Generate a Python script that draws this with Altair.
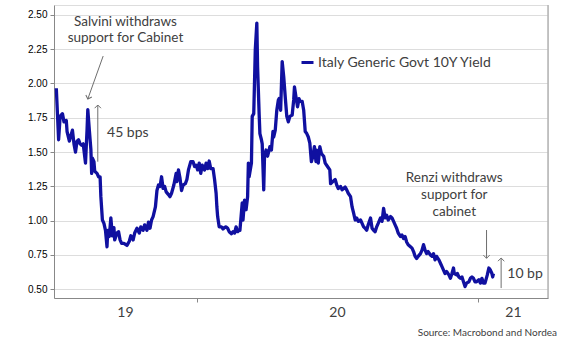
import altair as alt
import pandas as pd

# ---------------- data ----------------
dates = [
    "2019-07-02", "2019-07-05", "2019-07-07", "2019-07-10", "2019-07-12", "2019-07-15", "2019-07-16",
    "2019-07-19", "2019-07-21", "2019-07-23", "2019-07-25", "2019-07-27", "2019-07-29", "2019-07-31",
    "2019-08-02", "2019-08-04", "2019-08-06", "2019-08-09", "2019-08-11", "2019-08-12", "2019-08-14",
    "2019-08-16", "2019-08-17", "2019-08-18", "2019-08-20", "2019-08-21", "2019-08-24", "2019-08-26",
    "2019-08-28", "2019-08-29", "2019-08-31", "2019-09-02", "2019-09-04", "2019-09-06", "2019-09-07",
    "2019-09-09", "2019-09-11", "2019-09-13", "2019-09-15", "2019-09-16", "2019-09-19", "2019-09-21",
    "2019-09-23", "2019-09-25", "2019-09-28", "2019-10-02", "2019-10-05", "2019-10-07", "2019-10-10",
    "2019-10-12", "2019-10-15", "2019-10-18", "2019-10-20", "2019-10-23", "2019-10-25", "2019-10-28",
    "2019-10-30", "2019-11-01", "2019-11-03", "2019-11-05", "2019-11-08", "2019-11-10", "2019-11-12",
    "2019-11-14", "2019-11-16", "2019-11-18", "2019-11-20", "2019-11-22", "2019-11-25", "2019-11-27",
    "2019-11-29", "2019-12-02", "2019-12-05", "2019-12-06", "2019-12-08", "2019-12-10", "2019-12-12",
    "2019-12-14", "2019-12-17", "2019-12-19", "2019-12-21", "2019-12-24", "2019-12-27", "2019-12-29",
    "2019-12-31", "2020-01-02", "2020-01-04", "2020-01-06", "2020-01-08", "2020-01-11", "2020-01-13",
    "2020-01-15", "2020-01-17", "2020-01-19", "2020-01-22", "2020-01-24", "2020-01-26", "2020-01-27",
    "2020-01-28", "2020-01-30", "2020-02-02", "2020-02-04", "2020-02-06", "2020-02-08", "2020-02-10",
    "2020-02-12", "2020-02-15", "2020-02-17", "2020-02-19", "2020-02-21", "2020-02-23", "2020-02-25",
    "2020-02-26", "2020-02-29", "2020-03-01", "2020-03-03", "2020-03-05", "2020-03-07", "2020-03-08",
    "2020-03-09", "2020-03-12", "2020-03-13", "2020-03-15", "2020-03-17", "2020-03-19", "2020-03-20",
    "2020-03-22", "2020-03-23", "2020-03-25", "2020-03-26", "2020-03-28", "2020-03-29", "2020-03-31",
    "2020-04-02", "2020-04-04", "2020-04-05", "2020-04-07", "2020-04-09", "2020-04-10", "2020-04-12",
    "2020-04-14", "2020-04-16", "2020-04-17", "2020-04-19", "2020-04-21", "2020-04-23", "2020-04-25",
    "2020-04-27", "2020-04-29", "2020-05-01", "2020-05-04", "2020-05-06", "2020-05-07", "2020-05-09",
    "2020-05-11", "2020-05-13", "2020-05-14", "2020-05-17", "2020-05-19", "2020-05-21", "2020-05-23",
    "2020-05-25", "2020-05-27", "2020-05-29", "2020-05-31", "2020-06-02", "2020-06-04", "2020-06-05",
    "2020-06-07", "2020-06-09", "2020-06-11", "2020-06-14", "2020-06-16", "2020-06-19", "2020-06-22",
    "2020-06-23", "2020-06-26", "2020-06-29", "2020-07-01", "2020-07-03", "2020-07-06", "2020-07-08",
    "2020-07-10", "2020-07-12", "2020-07-14", "2020-07-16", "2020-07-19", "2020-07-21", "2020-07-23",
    "2020-07-25", "2020-07-27", "2020-07-29", "2020-08-01", "2020-08-03", "2020-08-05", "2020-08-07",
    "2020-08-09", "2020-08-11", "2020-08-14", "2020-08-16", "2020-08-18", "2020-08-20", "2020-08-22",
    "2020-08-24", "2020-08-27", "2020-08-29", "2020-08-31", "2020-09-02", "2020-09-04", "2020-09-06",
    "2020-09-09", "2020-09-11", "2020-09-13", "2020-09-15", "2020-09-17", "2020-09-19", "2020-09-22",
    "2020-09-24", "2020-09-26", "2020-09-28", "2020-09-30", "2020-10-02", "2020-10-05", "2020-10-07",
    "2020-10-09", "2020-10-11", "2020-10-13", "2020-10-15", "2020-10-18", "2020-10-20", "2020-10-22",
    "2020-10-24", "2020-10-26", "2020-10-28", "2020-10-31", "2020-11-02", "2020-11-04", "2020-11-06",
    "2020-11-08", "2020-11-11", "2020-11-13", "2020-11-15", "2020-11-17", "2020-11-19", "2020-11-21",
    "2020-11-24", "2020-11-26", "2020-11-28", "2020-11-30", "2020-12-01", "2020-12-04", "2020-12-05",
    "2020-12-07", "2020-12-09", "2020-12-11", "2020-12-13", "2020-12-15", "2020-12-17", "2020-12-20",
    "2020-12-22", "2020-12-24", "2020-12-26", "2020-12-28", "2020-12-30", "2021-01-02", "2021-01-04",
    "2021-01-06", "2021-01-08", "2021-01-10", "2021-01-13", "2021-01-15", "2021-01-17", "2021-01-19",
    "2021-01-20", "2021-01-21",
]
yields = [
    1.965, 1.59, 1.76, 1.78, 1.72, 1.73, 1.65,
    1.58, 1.62, 1.66, 1.56, 1.50, 1.58, 1.59,
    1.56, 1.55, 1.56, 1.42, 1.66, 1.81, 1.66,
    1.52, 1.345, 1.455, 1.43, 1.36, 1.345, 1.32,
    1.32, 1.175, 1.005, 0.98, 0.93, 0.81, 0.93,
    0.885, 1.02, 0.89, 0.95, 0.86, 0.91, 0.92,
    0.86, 0.835, 0.835, 0.82, 0.85, 0.89, 0.86,
    0.91, 0.945, 0.91, 0.955, 0.93, 0.97, 0.93,
    0.99, 0.945, 1.005, 1.03, 1.10, 1.22, 1.26,
    1.25, 1.32, 1.235, 1.25, 1.21, 1.19, 1.175,
    1.20, 1.26, 1.345, 1.285, 1.37, 1.31, 1.22,
    1.26, 1.27, 1.30, 1.37, 1.43, 1.43, 1.395,
    1.405, 1.37, 1.42, 1.345, 1.405, 1.37, 1.42,
    1.38, 1.435, 1.38, 1.38, 1.30, 1.20, 1.10,
    1.03, 0.955, 0.955, 0.94, 0.95, 0.955, 0.945,
    0.92, 0.905, 0.92, 0.91, 0.955, 0.92, 0.93,
    0.93, 1.13, 1.005, 1.15, 1.08, 1.175, 1.42,
    1.32, 1.42, 1.76, 1.78, 2.245, 2.44, 2.12,
    1.78, 1.635, 1.59, 1.56, 1.225, 1.47, 1.515,
    1.47, 1.515, 1.54, 1.515, 1.65, 1.61, 1.66,
    1.805, 1.88, 1.89, 1.805, 2.16, 2.05, 1.90,
    1.76, 1.72, 1.76, 1.77, 1.88, 1.975, 1.90,
    1.83, 1.89, 1.87, 1.87, 1.805, 1.65, 1.635,
    1.61, 1.565, 1.43, 1.47, 1.54, 1.43, 1.515,
    1.42, 1.54, 1.49, 1.47, 1.42, 1.395, 1.37,
    1.27, 1.285, 1.30, 1.26, 1.235, 1.25, 1.225,
    1.235, 1.245, 1.225, 1.20, 1.175, 1.10, 1.055,
    1.005, 1.02, 0.995, 1.005, 0.98, 0.955, 0.945,
    0.93, 0.97, 1.02, 0.945, 0.93, 0.92, 0.955,
    0.98, 1.02, 0.995, 1.09, 1.02, 1.04, 1.005,
    1.03, 1.02, 0.995, 0.97, 0.945, 0.91, 0.885,
    0.895, 0.87, 0.885, 0.845, 0.825, 0.81, 0.80,
    0.775, 0.74, 0.725, 0.74, 0.76, 0.785, 0.825,
    0.785, 0.76, 0.775, 0.75, 0.74, 0.76, 0.715,
    0.74, 0.715, 0.69, 0.665, 0.64, 0.615, 0.63,
    0.605, 0.58, 0.615, 0.655, 0.615, 0.605, 0.615,
    0.59, 0.58, 0.59, 0.555, 0.52, 0.545, 0.555,
    0.58, 0.59, 0.58, 0.555, 0.555, 0.57, 0.545,
    0.58, 0.545, 0.545, 0.605, 0.655, 0.64, 0.615,
    0.59, 0.615,
]
assert len(dates) == len(yields)

series_name = "Italy Generic Govt 10Y Yield"
y_ticks = [0.50, 0.75, 1.00, 1.25, 1.50, 1.75, 2.00, 2.25, 2.50]

year_label_dates = ["2019-09-30", "2020-07-02", "2021-02-16"]
year_labels = ["19", "20", "21"]

# annotation text (centered)
note_dates = ["2019-09-30", "2019-09-30", "2020-12-01", "2020-12-01", "2020-12-01"]
note_values = [2.445, 2.328, 1.311, 1.187, 1.063]
note_texts = ["Salvini withdraws", "support for Cabinet", "Renzi withdraws", "support for", "cabinet"]

# annotation text (left aligned)
move_dates = ["2019-09-06", "2021-02-08"]
move_values = [1.639, 0.611]
move_texts = ["45 bps", "10 bp"]

# arrows: start -> tip
arrow_start_dates = ["2019-09-01", "2019-08-25", "2021-01-12", "2021-01-31"]
arrow_start_values = [2.20, 1.43, 0.932, 0.509]
arrow_tip_dates = ["2019-08-12", "2019-08-25", "2021-01-12", "2021-01-31"]
arrow_tip_values = [1.887, 1.843, 0.726, 0.728]
arrow_angles = [199, 0, 180, 0]

source_text = "Source: Macrobond and Nordea"

# ---------------- chart ----------------
W, H = 494, 293
FONT = "Lato"
TEXT = "#404040"
BLUE = "#1010A0"
ARROW = "#6e6e6e"

df = pd.DataFrame({"date": pd.to_datetime(dates), "yield": yields, "series": series_name})
years = pd.DataFrame({"date": pd.to_datetime(year_label_dates), "label": year_labels})
notes = pd.DataFrame({"date": pd.to_datetime(note_dates), "v": note_values, "t": note_texts})
moves = pd.DataFrame({"date": pd.to_datetime(move_dates), "v": move_values, "t": move_texts})
arrows = pd.DataFrame({
    "d0": pd.to_datetime(arrow_start_dates), "v0": arrow_start_values,
    "d1": pd.to_datetime(arrow_tip_dates), "v1": arrow_tip_values, "ang": arrow_angles,
})
src = pd.DataFrame({"t": [source_text]})

x_scale = alt.Scale(domain=[alt.DateTime(year=2019, month=6, date=29),
                            alt.DateTime(year=2021, month=4, date=2)])
y_scale = alt.Scale(domain=[0.4366, 2.572], nice=False, zero=False)

x_axis = alt.Axis(values=[alt.DateTime(year=2020, month=1, date=1),
                          alt.DateTime(year=2021, month=1, date=1)],
                  labels=False, grid=False, ticks=True, tickSize=4, title=None)
y_axis = alt.Axis(values=y_ticks, format=".2f", grid=True, tickSize=4, title=None,
                  labelPadding=3, labelOverlap=False)


def X(field):
    return alt.X(field, scale=x_scale, axis=x_axis)


def Y(field):
    return alt.Y(field, scale=y_scale, axis=y_axis)


line = alt.Chart(df).mark_line(strokeWidth=3.3, strokeJoin="round").encode(
    x=X("date:T"),
    y=Y("yield:Q"),
    color=alt.Color("series:N", scale=alt.Scale(range=[BLUE]),
                    legend=alt.Legend(title=None, orient="none", legendX=246, legendY=50,
                                      symbolType="stroke", symbolSize=144, symbolStrokeWidth=3,
                                      labelFont=FONT, labelFontSize=14, labelColor=TEXT,
                                      labelOffset=3, padding=0, labelLimit=400)),
)

year_text = alt.Chart(years).mark_text(font=FONT, fontSize=14, color=TEXT, baseline="middle").encode(
    x=X("date:T"), y=alt.value(308), text="label:N")

note_text = alt.Chart(notes).mark_text(font=FONT, fontSize=13.5, color=TEXT, align="center",
                                       baseline="middle").encode(
    x=X("date:T"), y=Y("v:Q"), text="t:N")

move_text = alt.Chart(moves).mark_text(font=FONT, fontSize=14, color=TEXT, align="left",
                                       baseline="middle").encode(
    x=X("date:T"), y=Y("v:Q"), text="t:N")

shafts = alt.Chart(arrows).mark_rule(color=ARROW, strokeWidth=1).encode(
    x=X("d0:T"), y=Y("v0:Q"), x2="d1:T", y2="v1:Q")

heads = alt.Chart(arrows).mark_point(shape="M-1,1L0,0L1,1", filled=False, size=40,
                                     color=ARROW, strokeWidth=1, opacity=1).encode(
    x=X("d1:T"), y=Y("v1:Q"), angle=alt.Angle("ang:Q", scale=None))

right_border = alt.Chart(src).mark_rule(color="#b4b4b4", strokeWidth=1.5).encode(
    x=alt.value(W), y=alt.value(0), y2=alt.value(H))

source = alt.Chart(src).mark_text(font=FONT, fontSize=10, color=TEXT, align="right",
                                  baseline="middle").encode(
    x=alt.value(503), y=alt.value(328), text="t:N")

chart = alt.layer(line, year_text, note_text, move_text, shafts, heads, right_border, source).properties(
    width=W, height=H,
    autosize=alt.AutoSizeParams(type="none"),
    padding={"left": 54, "top": 5, "right": 32, "bottom": 45},
).configure_view(stroke=None).configure_axis(
    domainColor="#b4b4b4", domainWidth=1.5, tickColor="#b4b4b4",
    labelFont=FONT, labelFontSize=14, labelColor=TEXT,
    gridColor="#e4e4e4", gridWidth=1.5, labelOverlap=False,
).configure(background="white")

chart.save("out.html", embed_options={"renderer": "svg", "actions": False})
